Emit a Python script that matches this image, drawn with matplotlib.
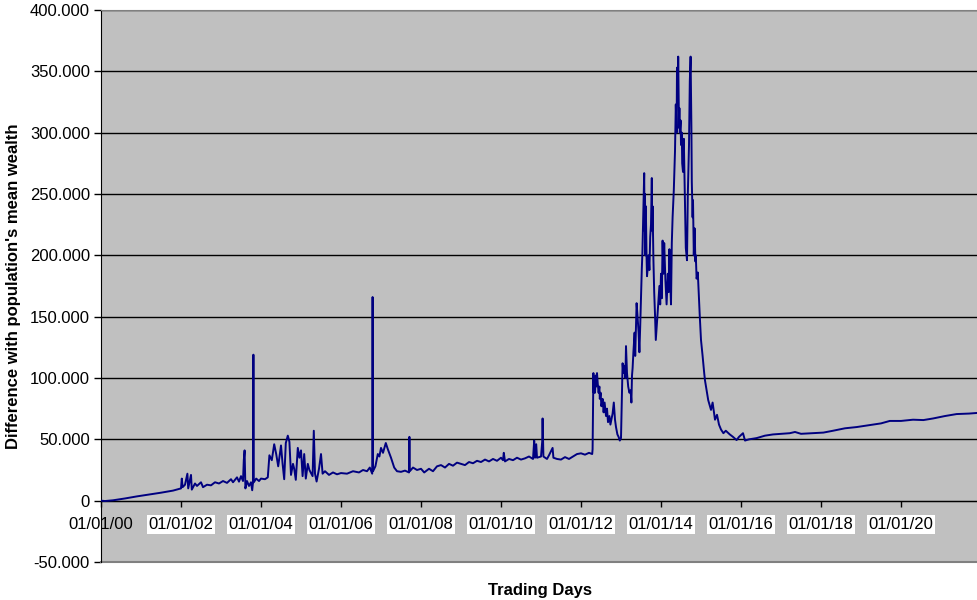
import matplotlib
matplotlib.use("Agg")
import matplotlib.pyplot as plt

plt.rcParams['font.family'] = ['Liberation Sans', 'DejaVu Sans']

# time in fractional years, value = difference with population's mean wealth
trade_time = [
    2000.00, 2000.10, 2000.30, 2000.60, 2000.90, 2001.20, 2001.50, 2001.80, 2002.00,
    2002.02, 2002.04, 2002.10, 2002.16, 2002.18, 2002.25, 2002.27, 2002.35, 2002.40,
    2002.50, 2002.55, 2002.65, 2002.75, 2002.85, 2002.95, 2003.05, 2003.15, 2003.25,
    2003.30, 2003.40, 2003.45, 2003.50, 2003.55, 2003.57, 2003.59, 2003.61, 2003.65,
    2003.70, 2003.75, 2003.78, 2003.80, 2003.81, 2003.82, 2003.88, 2003.95,
    2004.00, 2004.10, 2004.17, 2004.21, 2004.27, 2004.33, 2004.38, 2004.43, 2004.50,
    2004.54, 2004.58, 2004.62, 2004.67, 2004.71, 2004.75, 2004.80, 2004.83, 2004.87,
    2004.92, 2004.96, 2005.00, 2005.04, 2005.08, 2005.12, 2005.17, 2005.21, 2005.29,
    2005.32, 2005.35, 2005.39, 2005.45, 2005.50, 2005.54, 2005.60, 2005.70, 2005.80,
    2005.90, 2006.00, 2006.15, 2006.30, 2006.45, 2006.55, 2006.65, 2006.72, 2006.78,
    2006.79, 2006.80, 2006.86, 2006.92, 2006.96, 2007.00, 2007.05, 2007.12, 2007.17,
    2007.25, 2007.33, 2007.40, 2007.50, 2007.60, 2007.70, 2007.71, 2007.72, 2007.80,
    2007.90, 2008.00, 2008.08, 2008.20, 2008.30, 2008.40, 2008.50, 2008.60, 2008.70,
    2008.80, 2008.90, 2009.00, 2009.10, 2009.20, 2009.30, 2009.40, 2009.50, 2009.60,
    2009.70, 2009.80, 2009.90, 2010.00, 2010.05, 2010.07, 2010.10, 2010.20, 2010.30,
    2010.40, 2010.50, 2010.60, 2010.70, 2010.80, 2010.83, 2010.85, 2010.88, 2010.90,
    2011.00, 2011.03, 2011.04, 2011.06, 2011.15, 2011.20, 2011.29, 2011.31, 2011.40,
    2011.50, 2011.60, 2011.70, 2011.80, 2011.90, 2012.00, 2012.10, 2012.20, 2012.28,
    2012.29, 2012.30, 2012.31, 2012.32, 2012.34, 2012.35, 2012.37, 2012.375, 2012.40,
    2012.42, 2012.44, 2012.46, 2012.47, 2012.49, 2012.51, 2012.54, 2012.565, 2012.59,
    2012.625, 2012.65, 2012.675, 2012.71, 2012.735, 2012.76, 2012.79, 2012.82, 2012.85,
    2012.875, 2012.91, 2012.94, 2012.97, 2013.00, 2013.025, 2013.04, 2013.06, 2013.09,
    2013.11, 2013.125, 2013.15, 2013.18, 2013.21, 2013.24, 2013.26, 2013.275, 2013.29,
    2013.31, 2013.34, 2013.355, 2013.375, 2013.39, 2013.41, 2013.44, 2013.46, 2013.48,
    2013.50, 2013.52, 2013.535, 2013.55, 2013.565, 2013.58, 2013.59, 2013.60, 2013.61,
    2013.62, 2013.64, 2013.65, 2013.67, 2013.69, 2013.71, 2013.73, 2013.75, 2013.77,
    2013.78, 2013.79, 2013.81, 2013.83, 2013.85, 2013.87, 2013.90, 2013.93, 2013.96,
    2013.98, 2014.00, 2014.02, 2014.04, 2014.06, 2014.08, 2014.11, 2014.14, 2014.17,
    2014.19, 2014.21, 2014.23, 2014.25, 2014.27, 2014.29, 2014.32, 2014.35, 2014.37,
    2014.39, 2014.40, 2014.42, 2014.43, 2014.45, 2014.46, 2014.47, 2014.49, 2014.50,
    2014.52, 2014.53, 2014.55, 2014.57, 2014.59, 2014.62, 2014.65, 2014.67, 2014.70,
    2014.72, 2014.74, 2014.76, 2014.77, 2014.79, 2014.80, 2014.82, 2014.84, 2014.86,
    2014.87, 2014.89, 2014.92, 2014.94, 2014.97, 2015.00, 2015.04, 2015.08,
    2015.10, 2015.18, 2015.25, 2015.29, 2015.35, 2015.40, 2015.45,
    2015.50, 2015.56, 2015.62, 2015.72, 2015.80, 2015.89, 2015.95, 2016.05, 2016.10,
    2016.20, 2016.39, 2016.60, 2016.80, 2017.00, 2017.22, 2017.35, 2017.50, 2017.80,
    2018.06, 2018.30, 2018.60, 2018.89, 2019.20, 2019.50, 2019.72, 2020.00, 2020.30,
    2020.56, 2020.80, 2021.10, 2021.39, 2021.70, 2021.90,
]

mean_diff = [
    0, -300, 300, 1800, 3500, 5000, 6500, 8200, 10000,
    18000, 11000, 13000, 22000, 10000, 21000, 9000, 14000, 12000,
    15000, 11000, 13000, 12500, 15000, 14000, 16000, 14500, 17500,
    15000, 19000, 15500, 20000, 16000, 33000, 41000, 10000, 16000,
    12000, 15000, 8500, 15000, 119000, 15000, 18000, 16000,
    18000, 17500, 19000, 37000, 33000, 46000, 38000, 28000, 45000,
    30000, 17500, 47000, 53000, 48000, 21000, 30000, 26000, 17000,
    43000, 35000, 41000, 20000, 38000, 18000, 30000, 25000, 20000,
    57000, 22000, 15600, 26000, 38000, 22000, 24000, 21000, 23000,
    21500, 22500, 22000, 24000, 23000, 25000, 24000, 27000, 22000,
    166000, 24000, 28000, 38000, 36000, 43000, 39000, 47000, 42000,
    35000, 27000, 24000, 23500, 24500, 23000, 52000, 24000, 27000,
    25000, 26000, 23000, 26000, 24000, 28000, 29000, 27000, 30000,
    28500, 31000, 30000, 29000, 31500, 30500, 32500, 31500, 33500,
    32000, 34000, 32500, 35000, 33000, 39000, 32000, 34000, 33000,
    35000, 33500, 34500, 36000, 34000, 49000, 35000, 46000, 35000,
    36000, 48000, 67000, 36000, 34000, 37000, 43000, 35000, 34000,
    33500, 35500, 34000, 36000, 38000, 38600, 37500, 39000, 38000,
    42000, 74000, 104000, 88000, 100000, 88000, 102000, 93000, 104000,
    95000, 88000, 93000, 83000, 88000, 77000, 83000, 72000, 80000,
    69000, 75000, 64000, 69000, 62000, 66000, 71000, 80000, 66000,
    60000, 54000, 52000, 49000, 51000, 88000, 112000, 104000, 110000,
    100000, 126000, 104000, 93000, 88000, 90000, 80000, 102000, 108000,
    121000, 137000, 118000, 142000, 161000, 152000, 137000, 121000, 142000,
    167000, 189000, 202000, 224000, 248000, 267000, 220000, 250000, 200000,
    240000, 197000, 183000, 190000, 200000, 188000, 215000, 225000, 263000,
    220000, 240000, 197000, 170000, 152000, 131000, 145000, 160000, 175000,
    160000, 185000, 165000, 212000, 185000, 210000, 180000, 160000, 185000,
    170000, 205000, 180000, 160000, 210000, 231000, 253000, 285000, 323000,
    300000, 353000, 330000, 362000, 304000, 320000, 300000, 310000, 290000,
    300000, 275000, 268000, 295000, 260000, 206000, 196000, 249000, 290000,
    342000, 362000, 304000, 260000, 231000, 245000, 200000, 222000, 195000,
    200000, 181000, 186000, 171000, 150000, 131000, 118000, 104000,
    98000, 82000, 74000, 80000, 66000, 70000, 62000,
    58000, 55000, 57000, 54000, 52000, 49400, 52000, 55000, 49000,
    50000, 51000, 53000, 54000, 54500, 55000, 56000, 54500, 55000,
    55500, 57000, 59000, 60000, 61500, 63000, 65000, 65000, 66000,
    65700, 67000, 69000, 70600, 71000, 71500,
]

xtick_years = [2000, 2002, 2004, 2006, 2008, 2010, 2012, 2014, 2016, 2018, 2020]
xtick_labels = ['01/01/00', '01/01/02', '01/01/04', '01/01/06', '01/01/08', '01/01/10',
                '01/01/12', '01/01/14', '01/01/16', '01/01/18', '01/01/20']
ytick_values = [-50000, 0, 50000, 100000, 150000, 200000, 250000, 300000, 350000, 400000]

fig = plt.figure(figsize=(9.77, 6.0), dpi=100)
ax = fig.add_axes([101 / 977, 38 / 600, 876 / 977, 552 / 600])
ax.set_facecolor('#c0c0c0')

ax.plot(trade_time, mean_diff, color='#000080', lw=1.4, zorder=3)

ax.set_xlim(2000.0, 2021.9)
ax.set_ylim(-50000, 400000)

# y axis
ax.set_yticks(ytick_values)
ax.set_yticklabels([f"{v:,.0f}".replace(",", ".") for v in ytick_values])
ax.tick_params(axis='y', direction='out', length=5, width=1, pad=3, labelsize=12, colors='black')
ax.set_axisbelow(True)
ax.grid(axis='y', color='black', lw=1)

# x axis crosses at zero
ax.spines['bottom'].set_position(('data', 0))
ax.spines['bottom'].set_color('black')
ax.set_xticks(xtick_years)
ax.set_xticklabels(xtick_labels)
ax.tick_params(axis='x', direction='out', length=4, width=1, pad=8, labelsize=12)
for i, lbl in enumerate(ax.get_xticklabels()):
    if i > 0:
        lbl.set_bbox(dict(facecolor='white', edgecolor='none', pad=1.5))

ax.spines['left'].set_color('black')
ax.spines['top'].set_color('#808080')
ax.spines['right'].set_visible(False)
ax.plot([0, 1], [0, 0], transform=ax.transAxes, color='#808080', lw=1.5, clip_on=False)

ax.set_ylabel("Difference with population's mean wealth", fontsize=12, fontweight='bold', labelpad=6)
fig.text(540 / 977, 1 - 590 / 600, 'Trading Days', fontsize=12, fontweight='bold',
         ha='center', va='center')

fig.savefig('out.png', dpi=100)
